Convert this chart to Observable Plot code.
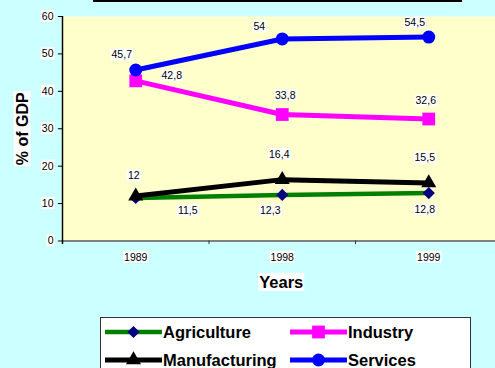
<!DOCTYPE html>
<html><head><meta charset="utf-8">
<script src="https://cdn.jsdelivr.net/npm/d3@7"></script>
<script src="https://cdn.jsdelivr.net/npm/@observablehq/plot@0.6"></script>
<style>
html,body{margin:0;padding:0;background:#CCFFFF;}
#wrap{position:relative;width:495px;height:368px;overflow:hidden;background:#CCFFFF;font-family:"Liberation Sans",Arial,sans-serif;}
#wrap svg.plot{position:absolute;left:0;top:0;}
#topline{position:absolute;left:93px;top:0;width:369px;height:2px;background:#000;}
#legend{position:absolute;left:100px;top:317px;width:371px;height:60px;}
</style></head><body><div id="wrap"><div id="topline"></div><div id="legend"></div></div>
<script>
// ---- data ----
const years = ["1989", "1998", "1999"];
const seriesNames = ["Agriculture", "Industry", "Manufacturing", "Services"];
const agriculture = [11.5, 12.3, 12.8];
const industry = [42.8, 33.8, 32.6];
const manufacturing = [12, 16.4, 15.5];
const services = [45.7, 54, 54.5];
const yTicks = [0, 10, 20, 30, 40, 50, 60];
const yTitle = "% of GDP";
const xTitle = "Years";

// ---- styling (kept apart from the data) ----
const seriesValues = [agriculture, industry, manufacturing, services];
const lineColors = ["#008000", "#FF00FF", "#000000", "#0000FF"];
const markerColors = ["#000080", "#FF00FF", "#000000", "#0000FF"];
const symbols = ["diamond2", "square", "triangle", "circle"];
const d3symbols = [d3.symbolDiamond2, d3.symbolSquare, d3.symbolTriangle, d3.symbolCircle];
const markerR = [5.5, 7.2, 5.6, 6.5];
const lineW = [4.5, 5, 5, 5];
const labelOffsets = [
  [[52, 13], [-12, 16], [-4, 17]],
  [[36, -5], [3, -19], [-3, -18]],
  [[-2, -20], [-3, -25], [-4, -25]],
  [[-14, -15], [-23, -12], [-14, -14]]
];
const drawOrder = [0, 1, 2, 3];
const fmt = v => String(v).replace(".", ",");
const font = '"Liberation Sans", Arial, sans-serif';

const idx = years.map((_, i) => i);
const marks = [];
marks.push(Plot.frame({fill: "#FFFFCC", stroke: null}));
// y tick marks and left axis
marks.push(Plot.ruleY(yTicks.filter(t => t > 0), {x1: -0.528, x2: -0.5, stroke: "#000"}));
marks.push(Plot.ruleY([0], {x1: -0.528, x2: 2.6, stroke: "#7F7F7F", strokeWidth: 2}));
marks.push(Plot.ruleX([-0.5], {y1: -0.95, y2: 60, stroke: "#000", strokeWidth: 1.5}));
marks.push(Plot.ruleX([0.5, 1.5], {y1: 0, y2: -0.95, stroke: "#333"}));

for (const s of drawOrder) {
  const rows = seriesValues[s].map((v, j) => ({x: j, y: v}));
  marks.push(Plot.line(rows, {x: "x", y: "y", stroke: lineColors[s], strokeWidth: lineW[s]}));
}
for (const s of drawOrder) {
  const rows = seriesValues[s].map((v, j) => ({x: j, y: v}));
  marks.push(Plot.dot(rows, {x: "x", y: "y", symbol: symbols[s], r: markerR[s], fill: markerColors[s], stroke: null}));
}
// value labels
for (const s of drawOrder) {
  seriesValues[s].forEach((v, j) => {
    const [dx, dy] = labelOffsets[s][j];
    marks.push(Plot.text([{x: j, y: v, t: fmt(v)}], {x: "x", y: "y", text: "t", dx, dy, fontSize: 10.5, fill: "#000", textAnchor: "middle", lineAnchor: "middle"}));
  });
}
// y tick labels
marks.push(Plot.text(yTicks, {y: d => d, text: d => String(d), frameAnchor: "left", textAnchor: "end", lineAnchor: "middle", dx: -9, fontSize: 10.5, fill: "#000"}));
// x tick labels
marks.push(Plot.text(idx, {x: d => d, text: d => years[d], frameAnchor: "bottom", textAnchor: "middle", lineAnchor: "middle", dy: 16.5, fontSize: 10.5, fill: "#000"}));
// titles
marks.push(Plot.text([yTitle], {text: d => d, frameAnchor: "left", textAnchor: "middle", lineAnchor: "middle", rotate: -90, dx: -40, fontSize: 16, fontWeight: "bold", fill: "#000"}));
marks.push(Plot.text([xTitle], {x: () => 1, text: d => d, frameAnchor: "bottom", textAnchor: "middle", lineAnchor: "middle", dx: -1, dy: 41.5, fontSize: 16.5, fontWeight: "bold", fill: "#000"}));

const svg = Plot.plot({
  width: 495,
  height: 300,
  marginTop: 16,
  marginBottom: 59.5,
  marginLeft: 62,
  marginRight: 0,
  x: {type: "linear", domain: [-0.5, 2.5], range: [62, 501.5], axis: null},
  y: {domain: [0, 60], axis: null},
  style: {background: "transparent", fontFamily: font, overflow: "visible"},
  marks
});
svg.classList.add("plot");
const wrap = document.getElementById("wrap");
wrap.insertBefore(svg, wrap.firstChild);

// white boxes behind every text, as in the reference
svg.querySelectorAll("text").forEach(t => {
  const b = t.getBBox();
  const r = document.createElementNS("http://www.w3.org/2000/svg", "rect");
  r.setAttribute("x", b.x - 1);
  r.setAttribute("y", b.y);
  r.setAttribute("width", b.width + 2);
  r.setAttribute("height", b.height);
  r.setAttribute("fill", "#fff");
  if (t.getAttribute("transform")) r.setAttribute("transform", t.getAttribute("transform"));
  t.parentNode.insertBefore(r, t);
});

// legend
const leg = d3.select("#legend").append("svg").attr("width", 371).attr("height", 60).style("overflow", "hidden");
leg.append("rect").attr("x", 0.5).attr("y", 0.5).attr("width", 370).attr("height", 70).attr("fill", "#fff").attr("stroke", "#333");
const legPos = [[0, 0], [1, 0], [0, 1], [1, 1]];
seriesNames.forEach((name, i) => {
  const [c, r] = legPos[i];
  const x0 = 5 + c * 185, y0 = 15 + r * 28;
  const g = leg.append("g");
  g.append("line").attr("x1", x0).attr("x2", x0 + 57).attr("y1", y0).attr("y2", y0).attr("stroke", lineColors[i]).attr("stroke-width", lineW[i]);
  g.append("path").attr("transform", `translate(${x0 + 28.5},${y0})`).attr("d", d3.symbol(d3symbols[i], Math.PI * markerR[i] * markerR[i])()).attr("fill", markerColors[i]);
  g.append("text").attr("x", x0 + 58).attr("y", y0).attr("dy", "0.35em").attr("font-family", font).attr("font-size", 16.5).attr("font-weight", "bold").text(name);
});
</script>
</body></html>
